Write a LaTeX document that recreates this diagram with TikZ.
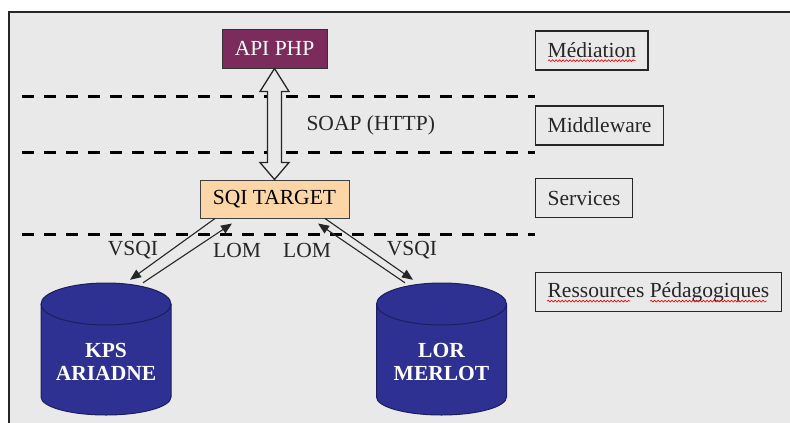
\documentclass[tikz,border=0pt]{standalone}
\usepackage{fontspec}
\setmainfont{Liberation Serif}
\usetikzlibrary{calc,positioning,arrows.meta,decorations.pathmorphing}
\definecolor{bggray}{HTML}{E9E9E9}
\definecolor{inkcol}{HTML}{262626}
\definecolor{apicol}{HTML}{7B2C5C}
\definecolor{sqicol}{HTML}{FDD6A8}
\definecolor{dbcol}{HTML}{2E3192}
\definecolor{dbdark}{HTML}{1C1E5E}
\tikzset{
layerbox/.style={draw=inkcol, line width=1.3pt, minimum height=39pt, inner xsep=12pt, text=inkcol, anchor=west}, % boxes on the right
layerline/.style={dashed, dash pattern=on 12pt off 10pt, line width=3pt, black}, % separators
dbshape/.style={draw=dbdark, line width=1pt, fill=dbcol},
dbtext/.style={minimum width=130pt, minimum height=115pt, inner sep=0pt, text=white, font=\fontsize{21.5}{23}\selectfont\bfseries, align=center},
flow/.style={draw=inkcol, line width=1.1pt, -{Triangle[length=11pt,width=9pt]}},
spell/.style={red, line width=0.6pt, decorate, decoration={snake, amplitude=0.9pt, segment length=3.5pt}},
}

\begin{document}
\begin{tikzpicture}[x=1pt,y=-1pt,font=\fontsize{21.5}{25}\selectfont,text=inkcol]
    \useasboundingbox (0,0) rectangle (790,423);
    \clip (0,0) rectangle (790,423);
    % frame
    \fill[bggray] (9,12) rectangle (800,430);
    \draw[inkcol, line width=1.3pt] (9,430) -- (9,12) -- (800,12);
    % layers
    \foreach \y in {96,152,234}
        \draw[layerline] (22,\y) -- (535,\y);
    \node[layerbox] (med) at (535,50.5) {Médiation};
    \node[layerbox] (mid) at (535,125.5) {Middleware};
    \node[layerbox] (srv) at (535,198) {Services};
    \node[layerbox] (res) at (535,292) {Ressources Pédagogiques};
    \draw[spell] ([shift={(13pt,10pt)}]med.south west) -- ([shift={(-13pt,10pt)}]med.south east);
    \draw[spell] ([shift={(12pt,11pt)}]res.south west) -- ([shift={(95pt,11pt)}]res.south west);
    \draw[spell] ([shift={(115pt,11pt)}]res.south west) -- ([shift={(-15pt,11pt)}]res.south east);
    % components
    \node[draw=black!80, line width=1pt, fill=apicol, text=white, minimum width=105pt, minimum height=39pt] (api) at (274.5,48.5) {API PHP};
    \node[draw=black!75, line width=1pt, fill=sqicol, text=black, minimum width=149pt, minimum height=38pt] (sqi) at (274.5,199) {SQI TARGET};
    % databases
    \foreach \n/\x/\a/\b in {kps/106/KPS/ARIADNE, lor/441.5/LOR/MERLOT} {
        \path[dbshape] (\x-65,304) -- (\x-65,397) arc[start angle=180, end angle=360, x radius=65pt, y radius=18pt]
            -- (\x+65,304) arc[start angle=0, end angle=180, x radius=65pt, y radius=21pt] -- cycle;
        \draw[dbshape, fill=none] (\x-65,304) arc[start angle=180, end angle=360, x radius=65pt, y radius=21pt];
        \node[dbtext] (\n) at (\x,361.5) {\a\\\b};
    }
    % SOAP
    \draw[inkcol, line width=1.3pt, fill=bggray] (api.south) -- ++(-14.5pt,-23pt) -- ++(7.5pt,0pt)
        -- ([shift={(-7pt,17pt)}]sqi.north) -- ++(-7.5pt,0pt) -- (sqi.north) -- ++(14.5pt,17pt)
        -- ++(-7.5pt,0pt) -- ([shift={(7pt,-23pt)}]api.south) -- ++(7.5pt,0pt) -- cycle;
    \node[anchor=west] (soap) at (303,125) {SOAP (HTTP)};
    % queries and records
    \path
    ([xshift=-59.5pt]sqi.south) edge[flow] ([shift={(24pt,24pt)}]kps.north)
    ([shift={(37pt,21pt)}]kps.north) edge[flow] ([xshift=-42.5pt,yshift=-5pt]sqi.south)
    ([xshift=50.5pt]sqi.south) edge[flow] ([shift={(-28.5pt,24pt)}]lor.north)
    ([shift={(-36.5pt,21pt)}]lor.north) edge[flow] ([xshift=43.5pt,yshift=-5pt]sqi.south);
    \node (q1) at (133,250) {VSQI};
    \node (r1) at (237,250) {LOM};
    \node (r2) at (307,250) {LOM};
    \node (q2) at (412,250) {VSQI};
\end{tikzpicture}
\end{document}
